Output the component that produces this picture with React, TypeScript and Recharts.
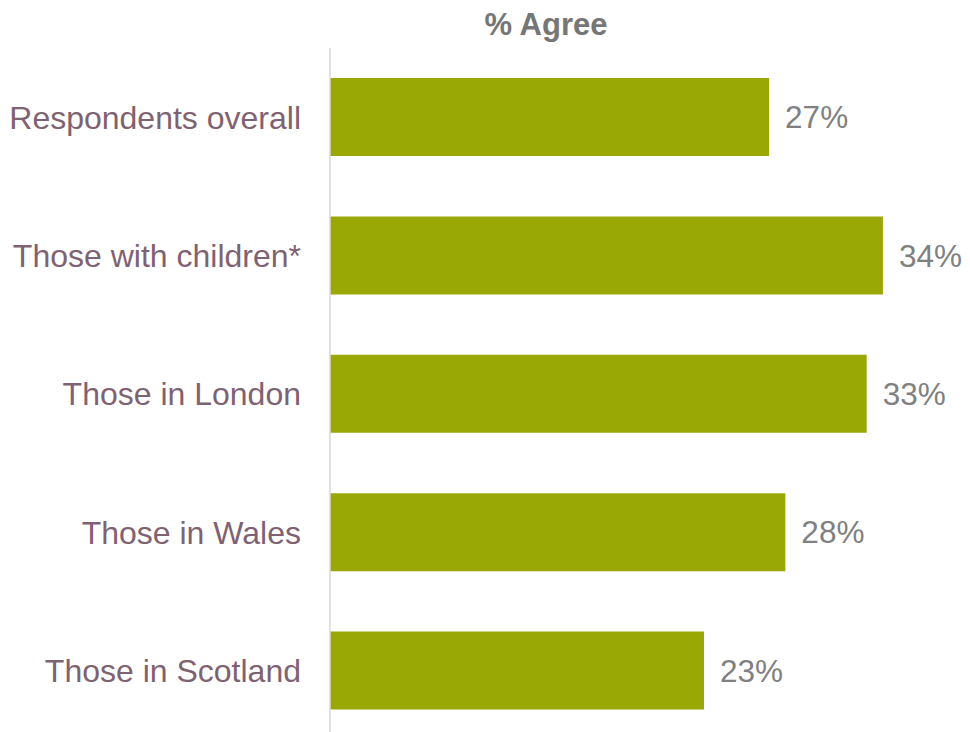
import { Bar, BarChart, LabelList, XAxis, YAxis } from "recharts";

const GROUPS = [
  "Respondents overall",
  "Those with children*",
  "Those in London",
  "Those in Wales",
  "Those in Scotland"
];
const AGREE = [27, 34, 33, 28, 23];

const data = GROUPS.map((name, i) => ({ name, agree: AGREE[i] }));

const FONT = "'Liberation Sans', Arial, sans-serif";

export default function App() {
  return (
    <div style={{ position: "relative", width: 970, height: 732, overflow: "hidden", fontFamily: FONT }}>
      <style>{`body{margin:0;overflow:hidden}`}</style>
      <BarChart
        width={970}
        height={740}
        data={data}
        layout="vertical"
        margin={{ top: 48, right: 22, left: 0, bottom: 0 }}
      >
        <XAxis type="number" domain={[0, 38]} hide />
        <YAxis
          type="category"
          dataKey="name"
          width={330}
          tickLine={false}
          tickSize={0}
          tickMargin={29}
          axisLine={{ stroke: "#dcd6d9", strokeWidth: 1.5 }}
          tick={{ fontSize: 32, fill: "#7f6272", fontFamily: FONT }}
        />
        <Bar dataKey="agree" fill="#9aa805" barSize={78} isAnimationActive={false}>
          <LabelList
            dataKey="agree"
            position="right"
            offset={16}
            formatter={(v: number) => `${v}%`}
            style={{ fontSize: 31.5, fill: "#808080", fontFamily: FONT }}
          />
        </Bar>
      </BarChart>
      <svg width={970} height={60} style={{ position: "absolute", left: 0, top: 0 }}>
        <text x={546} y={35} textAnchor="middle" fontFamily={FONT} fontWeight="bold" fontSize={31} fill="#767676">
          % Agree
        </text>
      </svg>
    </div>
  );
}
